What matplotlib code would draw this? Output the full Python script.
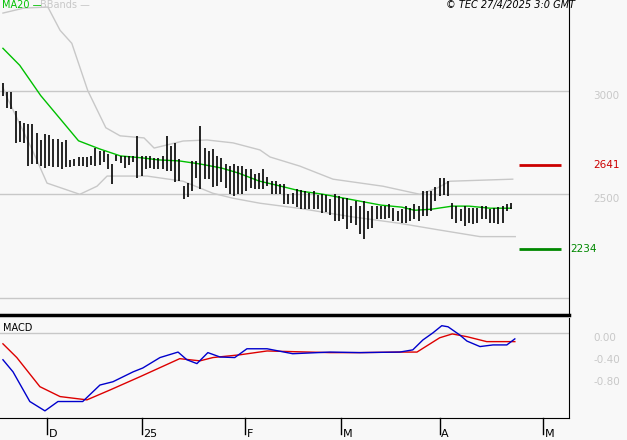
import matplotlib

matplotlib.use("Agg")
import matplotlib.pyplot as plt
import numpy as np

# daily bars (high / low), bar index = trading day
highs = [3039, 2991, 2991, 2903, 2855, 2845, 2840, 2840, 2797, 2763,
         2792, 2787, 2768, 2768, 2753, 2763, 2666, 2671, 2680, 2680,
         2680, 2685, 2724, 2710, 2710, 2695, 2646, 2690, 2685, 2685,
         2685, 2685, 2782, 2685, 2685, 2685, 2676, 2676, 2685, 2782,
         2734, 2748, 2671, 2540, 2554, 2661, 2661, 2831, 2724, 2710,
         2719, 2685, 2676, 2646, 2637, 2646, 2637, 2637, 2622, 2622,
         2598, 2603, 2622, 2583, 2564, 2564, 2549, 2549, 2501, 2506,
         2525, 2520, 2515, 2506, 2515, 2496, 2501, 2496, 2477, 2501,
         2491, 2482, 2482, 2443, 2467, 2443, 2467, 2419, 2443, 2443,
         2443, 2443, 2452, 2433, 2419, 2428, 2443, 2433, 2452, 2443,
         2515, 2515, 2515, 2535, 2579, 2579, 2564, 2457, 2443, 2428,
         2443, 2433, 2433, 2433, 2443, 2443, 2428, 2433, 2438, 2443,
         2452, 2457]
lows = [2976, 2918, 2913, 2748, 2753, 2748, 2637, 2646, 2646, 2637,
        2627, 2637, 2632, 2632, 2622, 2632, 2632, 2637, 2637, 2637,
        2632, 2642, 2637, 2642, 2656, 2622, 2549, 2661, 2651, 2627,
        2642, 2656, 2579, 2588, 2622, 2627, 2622, 2622, 2622, 2613,
        2613, 2559, 2564, 2477, 2486, 2516, 2579, 2525, 2574, 2574,
        2535, 2540, 2559, 2530, 2501, 2491, 2501, 2501, 2515, 2530,
        2525, 2525, 2525, 2540, 2501, 2501, 2501, 2452, 2452, 2452,
        2438, 2428, 2428, 2428, 2428, 2428, 2409, 2414, 2399, 2370,
        2370, 2380, 2331, 2360, 2351, 2307, 2283, 2331, 2336, 2380,
        2380, 2380, 2385, 2370, 2370, 2360, 2360, 2370, 2380, 2370,
        2394, 2394, 2419, 2467, 2491, 2496, 2491, 2380, 2360, 2370,
        2346, 2360, 2355, 2360, 2380, 2380, 2360, 2360, 2355, 2360,
        2419, 2428]

# MA20 and Bollinger bands sampled off the chart
ma_idx = [0, 4, 9, 14, 18, 23, 28, 33, 37, 42, 47, 52, 56, 61, 66, 71,
          76, 80, 85, 90, 95, 98, 102, 107, 111, 116, 121]
ma_val = [3204, 3122, 2976, 2855, 2758, 2719, 2685, 2676, 2666, 2661,
          2646, 2627, 2603, 2564, 2540, 2515, 2501, 2486, 2467, 2448,
          2438, 2423, 2428, 2443, 2443, 2433, 2433]
up_idx = [0, 5, 10.7, 13.6, 16.4, 20.2, 24.5, 27.9, 33.6, 36, 42.9, 48.6,
          54.8, 61.2, 63.6, 70.7, 78.6, 90.5, 99.3, 103.3, 106.4, 121.4]
up_val = [3374, 3398, 3403, 3291, 3228, 3000, 2821, 2782, 2772, 2723,
          2757, 2762, 2748, 2714, 2680, 2636, 2573, 2539, 2500, 2529,
          2563, 2573]
lo_idx = [0, 1, 7.1, 10.5, 18.3, 22.4, 24.8, 34.3, 42.9, 50, 54.8, 61.2,
          70.7, 82.6, 94.5, 103.3, 113.6, 122]
lo_val = [3015, 2966, 2709, 2554, 2500, 2539, 2588, 2588, 2563, 2505,
          2481, 2457, 2432, 2393, 2360, 2330, 2296, 2296]

# MACD / signal
macd_idx = [0, 2.4, 6.4, 10, 13.1, 19, 23.1, 26.2, 31, 33.3, 37.4, 41.7,
            43.8, 46.2, 48.8, 51.7, 55.2, 58.1, 62.9, 69, 77.9, 85, 94.5,
            97.6, 100, 102.4, 104.5, 106, 108.8, 110.5, 113.6, 116.7, 120,
            121.9]
macd_val = [-0.49, -0.71, -1.25, -1.42, -1.25, -1.25, -0.95, -0.89, -0.71,
            -0.64, -0.45, -0.35, -0.49, -0.56, -0.36, -0.44, -0.45, -0.29,
            -0.29, -0.38, -0.35, -0.36, -0.35, -0.31, -0.13, 0.0, 0.13,
            0.11, -0.04, -0.15, -0.25, -0.22, -0.22, -0.11]
sig_idx = [0, 3.3, 8.8, 13.6, 20, 25.5, 32.6, 42.1, 46.9, 50, 56.4, 62.9,
           77.9, 85, 94.5, 98.6, 104, 107, 110.5, 115.2, 121.9]
sig_val = [-0.2, -0.45, -0.98, -1.16, -1.22, -1.04, -0.8, -0.47, -0.51,
           -0.45, -0.4, -0.33, -0.36, -0.36, -0.35, -0.35, -0.09, -0.02,
           -0.07, -0.16, -0.16]

resistance = 2641
support = 2234
month_pos = [10.5, 33.1, 57.6, 80.5, 104, 128.6]
month_lab = ["D", "25", "F", "M", "A", "M"]

BG = "#f8f8f8"
GRID = "#c8c8c8"
XMIN, XMAX = -0.7, 134.8

fig = plt.figure(figsize=(6.27, 4.4), dpi=100, facecolor=BG)
ax = fig.add_axes([0, 1 - 315 / 440, 569 / 627, 315 / 440], facecolor=BG)
ax2 = fig.add_axes([0, 22 / 440, 569 / 627, 100 / 440], facecolor=BG)

x = np.arange(len(highs))
for a in (ax, ax2):
    for s in ("left", "top"):
        a.spines[s].set_visible(False)
    a.set_xlim(XMIN, XMAX)
    a.set_xticks([])
    a.set_yticks([])
    a.spines["right"].set_color("black")
    a.spines["bottom"].set_color("black")
ax.spines["bottom"].set_linewidth(2.5)

ax.set_ylim(1918, 3437)
for g in (2000, 2500, 3000):
    ax.axhline(g, color=GRID, lw=1)
ax.plot(up_idx, up_val, color=GRID, lw=1)
ax.plot(lo_idx, lo_val, color=GRID, lw=1)
ax.plot(ma_idx, ma_val, color="#00c000", lw=1)
ax.vlines(x, lows, highs, color="black", lw=1.2)

ax.hlines(resistance, 122.9, 133, color="#cc0000", lw=2)
ax.hlines(support, 122.9, 133, color="#008800", lw=2)
ax.text(1.043, resistance, str(resistance), transform=ax.get_yaxis_transform(),
        color="#cc0000", fontsize=7.5, va="center")
ax.text(1.002, support, str(support), transform=ax.get_yaxis_transform(),
        color="#008800", fontsize=7.5, va="center")
for g in (2500, 3000):
    ax.text(1.043, g - 25, str(g), transform=ax.get_yaxis_transform(),
            color=GRID, fontsize=7.5, va="center")

fig.text(2 / 627, 1 - 5 / 440, "MA20 —", color="#00c000", fontsize=7, va="center")
fig.text(40 / 627, 1 - 5 / 440, "BBands —", color=GRID, fontsize=7, va="center")
fig.text(575 / 627, 1 - 5 / 440, "© TEC 27/4/2025 3:0 GMT", fontsize=7,
         style="italic", ha="right", va="center")

ax2.set_ylim(-1.55, 0.27)
ax2.axhline(0, color=GRID, lw=1)
ax2.plot(sig_idx, sig_val, color="#dd0000", lw=1)
ax2.plot(macd_idx, macd_val, color="#0000cc", lw=1)
ax2.text(3 / 569, 0.9, "MACD", transform=ax2.transAxes, fontsize=7, va="center")
for v, lab in ((0, "0.00"), (-0.4, "-0.40"), (-0.8, "-0.80")):
    ax2.text(1.043, v - 0.09, lab, transform=ax2.get_yaxis_transform(),
             color=GRID, fontsize=7.5, va="center")

for p, lab in zip(month_pos, month_lab):
    ax2.plot([p, p], [0, -0.16], transform=ax2.get_xaxis_transform(),
             color="black", lw=1, clip_on=False)
    ax2.text(p + 0.4, -0.16, lab, transform=ax2.get_xaxis_transform(),
             fontsize=8, va="center", ha="left")

fig.savefig("out.png", dpi=100, facecolor=BG)
